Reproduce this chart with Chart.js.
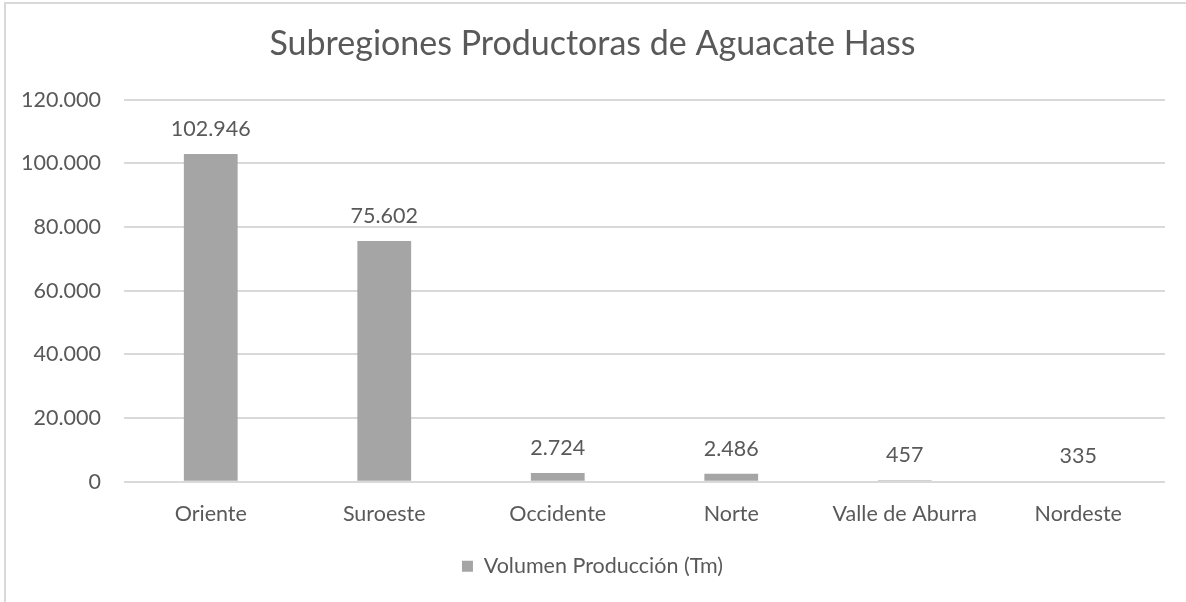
<!DOCTYPE html>
<html>
<head>
<meta charset="utf-8">
<script src="https://cdn.jsdelivr.net/npm/chart.js@4/dist/chart.umd.min.js"></script>
<style>
    html, body { margin: 0; padding: 0; background: #fff; }
    #wrap { position: relative; width: 1186px; height: 602px; overflow: hidden; }
    #frame { position: absolute; left: 4px; top: 2px; width: 1200px; height: 620px; border-top: 2px solid #d9d9d9; border-left: 2px solid #d9d9d9; }
    #chart { position: absolute; left: 0; top: 0; }
</style>
</head>
<body>
<div id="wrap">
    <div id="frame"></div>
    <canvas id="chart" width="1186" height="602"></canvas>
</div>
<script>
const subregiones = ["Oriente", "Suroeste", "Occidente", "Norte", "Valle de Aburra", "Nordeste"];
const volumenTm = [102946, 75602, 2724, 2486, 457, 335];
const serieNombre = "Volumen Producción (Tm)";
const tituloGrafico = "Subregiones Productoras de Aguacate Hass";

const FONT = "Lato, Calibri, sans-serif";
const LABEL_SIZE = 21.5;
const TEXT = "#595959";
const BAR = "#a5a5a5";

// thousands with a dot, as in es-CO
function fmt(v) {
    return String(Math.round(v)).replace(/\B(?=(\d{3})+(?!\d))/g, ".");
}

// value labels drawn above each bar
const valueLabels = {
    id: "valueLabels",
    afterDatasetsDraw(chart) {
        const ctx = chart.ctx;
        const meta = chart.getDatasetMeta(0);
        ctx.save();
        ctx.font = LABEL_SIZE + "px " + FONT;
        ctx.fillStyle = TEXT;
        ctx.textAlign = "center";
        ctx.textBaseline = "alphabetic";
        meta.data.forEach((bar, i) => {
            ctx.fillText(fmt(chart.data.datasets[0].data[i]), bar.x, bar.y - 18);
        });
        ctx.restore();
    }
};

new Chart(document.getElementById("chart"), {
    type: "bar",
    data: {
        labels: subregiones,
        datasets: [{
            label: serieNombre,
            data: volumenTm,
            backgroundColor: BAR,
            borderWidth: 0,
            categoryPercentage: 1,
            barPercentage: 0.31
        }]
    },
    plugins: [valueLabels],
    options: {
        responsive: false,
        animation: false,
        layout: { padding: { left: 20, right: 21, top: 0, bottom: 15 } },
        plugins: {
            title: {
                display: true,
                text: tituloGrafico,
                color: TEXT,
                font: { family: FONT, size: 34, weight: "normal" },
                padding: { top: 24, bottom: 35 }
            },
            legend: {
                position: "bottom",
                labels: {
                    color: TEXT,
                    font: { family: FONT, size: LABEL_SIZE },
                    boxWidth: 11,
                    boxHeight: 11,
                    padding: 18
                }
            },
            tooltip: { enabled: false }
        },
        scales: {
            x: {
                grid: { display: false },
                border: { display: false },
                ticks: { color: TEXT, font: { family: FONT, size: LABEL_SIZE }, padding: 11 }
            },
            y: {
                min: 0,
                max: 120000,
                grid: { color: "#d9d9d9", lineWidth: 2, drawTicks: false },
                border: { display: false },
                afterFit(scale) { scale.width = 104; },
                ticks: {
                    stepSize: 20000,
                    color: TEXT,
                    font: { family: FONT, size: LABEL_SIZE },
                    padding: 23,
                    callback: (v) => fmt(v)
                }
            }
        }
    }
});
</script>
</body>
</html>
